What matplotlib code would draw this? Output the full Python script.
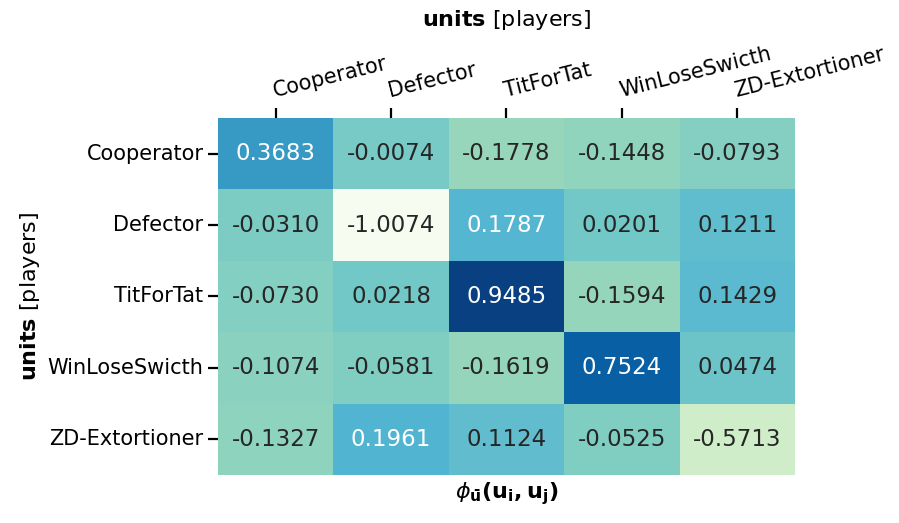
import matplotlib
matplotlib.use("Agg")
import matplotlib.pyplot as plt
import numpy as np
import pandas as pd
import seaborn as sns

players = ["Cooperator", "Defector", "TitForTat", "WinLoseSwicth", "ZD-Extortioner"]

row_cooperator = [0.3683, -0.0074, -0.1778, -0.1448, -0.0793]
row_defector = [-0.0310, -1.0074, 0.1787, 0.0201, 0.1211]
row_titfortat = [-0.0730, 0.0218, 0.9485, -0.1594, 0.1429]
row_winlose = [-0.1074, -0.0581, -0.1619, 0.7524, 0.0474]
row_zd = [-0.1327, 0.1961, 0.1124, -0.0525, -0.5713]

df = pd.DataFrame([row_cooperator, row_defector, row_titfortat, row_winlose, row_zd],
                  index=players, columns=players)

fig = plt.figure(figsize=(8.99, 5.23), dpi=100)
ax = fig.add_axes([0.2425, 0.0918, 0.6418, 0.6826])

sns.heatmap(df, ax=ax, cmap="GnBu", annot=True, fmt=".4f", cbar=False,
            annot_kws={"fontsize": 16.5})

ax.xaxis.tick_top()
ax.set_xticklabels(players, rotation=14, ha="left", rotation_mode="anchor", fontsize=15)
ax.set_yticklabels(players, rotation=0, fontsize=15)
ax.tick_params(axis="both", length=7.5, width=1.6, pad=3)
ax.tick_params(axis="x", pad=5)

# title drawn as figure text so it stays inside the canvas
fig.text(0.5635, 1 - 20 / 523, r"$\bf{units}$ [players]", fontsize=16,
         ha="center", va="center")
ax.set_ylabel(r"$\bf{units}$ [players]", fontsize=16)
ax.set_xlabel(r"$\phi_{\mathbf{\bar{u}}}\mathbf{(u_i, u_j)}$", fontsize=16)

fig.savefig("out.png", dpi=100)
